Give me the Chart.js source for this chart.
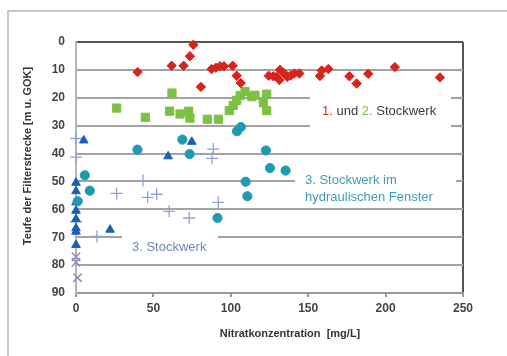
<!DOCTYPE html>
<html>
<head>
<meta charset="utf-8">
<script src="https://cdn.jsdelivr.net/npm/chart.js@4/dist/chart.umd.min.js"></script>
<style>
  html, body { margin: 0; padding: 0; background: #fff; overflow: hidden; }
  #wrap { position: relative; width: 507px; height: 356px; }
  #frame { position: absolute; left: 7px; top: 10px; width: 600px; height: 400px; border: 2px solid #c8c8c8; }
  #chart { position: absolute; left: 0; top: 0; }
</style>
</head>
<body>
<div id="wrap">
  <div id="frame"></div>
  <canvas id="chart" width="507" height="356"></canvas>
</div>
<script>
const stockwerk1 = [
  [39.8, 10.8], [61.8, 8.5], [69.5, 8.5], [73.6, 5.1], [75.8, 1.0], [80.7, 16.1],
  [87.6, 9.7], [90.4, 9.2], [93, 8.7], [95.6, 8.7], [101.2, 8.5], [103.8, 12.1],
  [106.4, 14.7], [124.5, 12.1], [127.5, 12.3], [129.6, 12.5], [131.4, 13.6],
  [131.8, 10], [134, 11], [136.5, 12.5], [138.7, 12], [141, 11.3], [144.3, 11.3],
  [157.6, 12.2], [158.7, 10.2], [163, 9.7], [176.6, 12.3], [181.3, 14.9],
  [188.8, 11.4], [206, 9.0], [235.1, 12.7]
];
const stockwerk2 = [
  [26.3, 23.7], [44.8, 27], [60.5, 24.8], [62, 18.3], [67.2, 25.8], [72.8, 24.8],
  [73.6, 27.3], [84.8, 27.7], [92, 27.7], [99, 24.6], [101.6, 22.7], [103.8, 20.9],
  [106, 19.2], [109.2, 17.8], [113.5, 19.6], [115.6, 19.1], [121, 21.8],
  [123.2, 18.7], [123.2, 24.6]
];
const fensterKreise = [
  [39.7, 38.6], [68.7, 35], [73.4, 40.2], [104, 32], [106.5, 30.5], [122.7, 38.9],
  [125.3, 45.2], [135.4, 46.1], [109.6, 50.1], [110.7, 55.3], [91.4, 63.1],
  [5.7, 47.8], [8.9, 53.3], [1.1, 57.1]
];
const fensterDreiecke = [
  [5, 35.3], [59.5, 41], [74.8, 35.8], [22, 67.3], [0, 50.5], [0, 53.5], [0, 57.5],
  [0, 60.5], [0, 63.5], [0, 66.8], [0, 68], [0, 72.8]
];
const stockwerk3 = [
  [0, 34.6], [0, 41.3], [26.3, 54.3], [43.3, 49.7], [46.3, 55.7], [52.1, 54.6],
  [60.2, 60.7], [73.1, 63.1], [88.7, 38.4], [87.9, 41.7], [91.9, 57.5], [13.5, 69.7],
  [0, 64.5]
];
const tiefKreuze = [[0, 77], [0, 79], [1, 84.5]];

const xTicks = [0, 50, 100, 150, 200, 250];
const yTicks = [0, 10, 20, 30, 40, 50, 60, 70, 80, 90];

const toPts = arr => arr.map(p => ({ x: p[0], y: p[1] }));

// white boxes behind the labels, then the labels
const labelPlugin = {
  id: "labels",
  beforeDatasetsDraw(chart) {
    const ctx = chart.ctx;
    ctx.save();
    ctx.fillStyle = "#fff";
    ctx.fillRect(310, 90, 141, 42);
    ctx.fillRect(295, 165, 161, 38);
    ctx.fillRect(122, 229, 96, 29);
    ctx.restore();
  },
  afterDraw(chart) {
    const ctx = chart.ctx;
    ctx.save();
    ctx.font = "13px 'Liberation Sans', Arial, sans-serif";
    ctx.textBaseline = "middle";
    let x = 322;
    const parts = [["1.", "#d42a20"], [" und ", "#3a3a3a"], ["2.", "#7cc242"], [" Stockwerk", "#3a3a3a"]];
    parts.forEach(([t, c]) => {
      ctx.fillStyle = c;
      ctx.fillText(t, x, 111);
      x += ctx.measureText(t).width;
    });
    ctx.fillStyle = "#3a9db5";
    ctx.fillText("3. Stockwerk im", 305, 180);
    ctx.fillText("hydraulischen Fenster", 305, 197);
    ctx.fillStyle = "#6f84bd";
    ctx.fillText("3. Stockwerk", 132, 247);

    // axis titles
    ctx.fillStyle = "#333";
    ctx.font = "bold 11px 'Liberation Sans', Arial, sans-serif";
    ctx.textAlign = "center";
    ctx.fillText("Nitratkonzentration  [mg/L]", 290, 334);
    ctx.translate(28, 156);
    ctx.rotate(-Math.PI / 2);
    ctx.fillText("Teufe der Filterstrecke [m u. GOK]", 0, 0);
    ctx.restore();
  }
};

new Chart(document.getElementById("chart"), {
  type: "scatter",
  data: {
    datasets: [
      { label: "1. Stockwerk", data: toPts(stockwerk1), pointStyle: "rectRot", radius: 4.7,
        backgroundColor: "#d8231c", borderColor: "#d8231c", borderWidth: 1, clip: false },
      { label: "2. Stockwerk", data: toPts(stockwerk2), pointStyle: "rect", radius: 5.8,
        backgroundColor: "#7cc242", borderColor: "#7cc242", borderWidth: 1, clip: false },
      { label: "Fenster Kreise", data: toPts(fensterKreise), pointStyle: "circle", radius: 4.6,
        backgroundColor: "#1e9bb0", borderColor: "#1e9bb0", borderWidth: 1, clip: false },
      { label: "Fenster Dreiecke", data: toPts(fensterDreiecke), pointStyle: "triangle", radius: 5,
        backgroundColor: "#1a5fb4", borderColor: "#1a5fb4", borderWidth: 1, clip: false },
      { label: "3. Stockwerk", data: toPts(stockwerk3), pointStyle: "cross", radius: 6,
        backgroundColor: "#8fa3d6", borderColor: "#8fa3d6", borderWidth: 1.3, clip: false },
      { label: "tief", data: toPts(tiefKreuze), pointStyle: "crossRot", radius: 6,
        backgroundColor: "#9088c0", borderColor: "#9088c0", borderWidth: 1.5, clip: false }
    ]
  },
  options: {
    responsive: false,
    animation: false,
    events: [],
    layout: { padding: { top: 42, right: 44, left: 0, bottom: 0 } },
    plugins: { legend: { display: false }, tooltip: { enabled: false } },
    scales: {
      x: {
        type: "linear", min: 0, max: 250,
        afterBuildTicks: s => { s.ticks = xTicks.map(v => ({ value: v })); },
        afterFit: s => { s.height = 63; },
        grid: {
          color: c => (c.tick && c.tick.value === 250 ? "#555" : "rgba(0,0,0,0)"),
          lineWidth: 2, tickLength: 4, tickColor: "#999"
        },
        border: { color: "#999", width: 2 },
        ticks: { padding: 4, color: "#444", font: { size: 12, weight: "bold", family: "'Liberation Sans', Arial, sans-serif" } }
      },
      y: {
        type: "linear", min: 0, max: 90, reverse: true,
        afterBuildTicks: s => { s.ticks = yTicks.map(v => ({ value: v })); },
        afterFit: s => { s.width = 76; },
        grid: {
          color: c => (c.tick && c.tick.value === 0 ? "#555" : "#a3a3a3"),
          lineWidth: 2, drawTicks: false
        },
        border: { color: "#b5b5b5", width: 2 },
        ticks: { padding: 11, color: "#444", font: { size: 12, weight: "bold", family: "'Liberation Sans', Arial, sans-serif" } }
      }
    }
  },
  plugins: [labelPlugin]
});
</script>
</body>
</html>
